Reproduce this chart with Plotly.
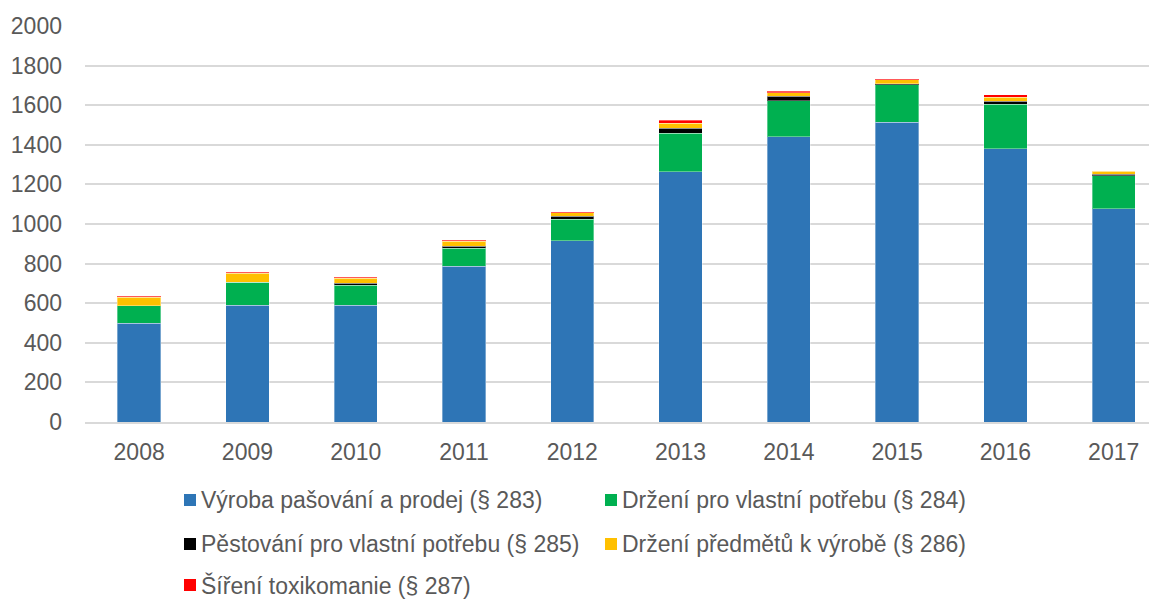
import plotly.graph_objects as go

years = ["2008", "2009", "2010", "2011", "2012", "2013", "2014", "2015", "2016", "2017"]
vyroba = [500, 589, 589, 786, 915, 1263, 1441, 1513, 1379, 1076]
drzeni = [88, 118, 101, 92, 108, 196, 181, 190, 226, 168]
pestovani = [0, 0, 12, 10, 15, 25, 24, 6, 14, 7]
predmety = [43, 45, 25, 25, 20, 24, 16, 20, 20, 15]
sireni = [5, 5, 5, 4, 5, 17, 9, 5, 13, 2]

series = [
    ("Výroba pašování a prodej (§ 283)", vyroba, "#2E75B6"),
    ("Držení pro vlastní potřebu (§ 284)", drzeni, "#00B050"),
    ("Pěstování pro vlastní potřebu (§ 285)", pestovani, "#000000"),
    ("Držení předmětů k výrobě (§ 286)", predmety, "#FFC000"),
    ("Šíření toxikomanie (§ 287)", sireni, "#FF0000"),
]

FONT = "Liberation Sans, Arial, sans-serif"
TXT = "#595959"
FS = 23

fig = go.Figure()
for name, vals, col in series:
    fig.add_trace(go.Bar(
        x=years, y=vals, name=name, showlegend=False,
        marker=dict(color=col, line=dict(color="rgba(255,255,255,0.35)", width=1)),
    ))

OFF = 8  # page body margin
W, H = 1157 - OFF, 599 - OFF
L, R, T, B = 85 - OFF, 0, 26 - OFF, 177
pw, ph = W - L - R, H - T - B

def px(x):
    return (x - OFF - L) / pw

def py(y):
    return (H - B - (y - OFF)) / ph

# manual legend (two columns, three rows), positions in page pixels
legend_pos = [(0, 500), (1, 500), (0, 544), (1, 544), (0, 585)]
col_marker = [190, 611]
col_text = [199, 620]
shapes = []
annotations = []
for (name, vals, colr), (c, yy) in zip(series, legend_pos):
    mx = col_marker[c]
    shapes.append(dict(type="rect", xref="paper", yref="paper",
                       x0=px(mx - 6), x1=px(mx + 6), y0=py(yy + 6), y1=py(yy - 6),
                       fillcolor=colr, line=dict(width=0)))
    annotations.append(dict(xref="paper", yref="paper", x=px(col_text[c]), y=py(yy),
                            xanchor="left", yanchor="middle", showarrow=False,
                            text=name, font=dict(family=FONT, size=FS, color=TXT)))

fig.update_layout(
    barmode="stack",
    bargap=0.6,
    width=W, height=H,
    margin=dict(l=L, r=R, t=T, b=B, pad=0),
    plot_bgcolor="white", paper_bgcolor="white",
    font=dict(family=FONT, size=FS, color=TXT),
    shapes=shapes,
    annotations=annotations,
    showlegend=False,
)
fig.update_xaxes(
    type="category", range=[-0.5, 9.4],
    showline=True, linecolor="#D9D9D9", linewidth=1.5,
    showgrid=False, ticks="", ticklabelstandoff=9,
    tickfont=dict(family=FONT, size=FS, color=TXT),
)
fig.update_yaxes(
    range=[0, 2000], dtick=200, tick0=0,
    showgrid=True, gridcolor="#D9D9D9", gridwidth=1.5,
    zeroline=False, showline=False, ticks="",
    ticklabelstandoff=22,
    tickfont=dict(family=FONT, size=FS, color=TXT),
)

fig.write_html("out.html")
